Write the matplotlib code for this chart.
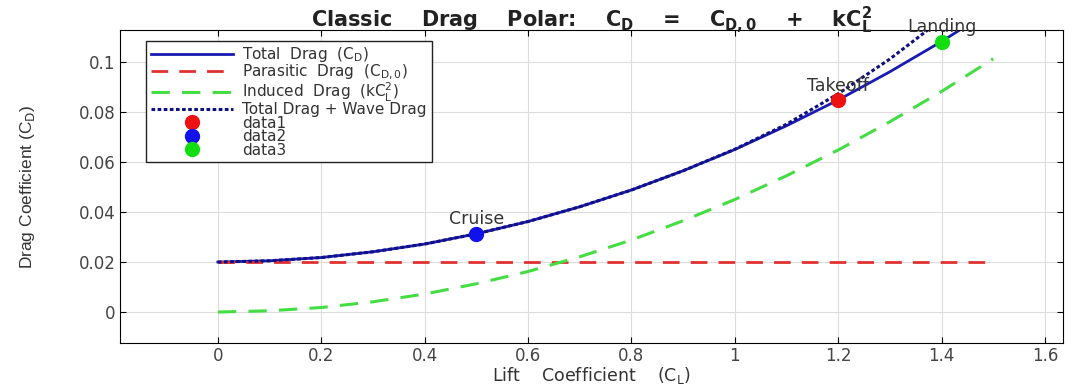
import numpy as np
import matplotlib.pyplot as plt

plt.rcParams['font.family'] = ['DejaVu Sans']

# values
cl = [0.0, 0.1, 0.2, 0.3, 0.4, 0.5, 0.6, 0.7, 0.8, 0.9, 1.0, 1.1, 1.2, 1.3, 1.4, 1.5]
cd_total = [0.020, 0.0205, 0.0218, 0.0241, 0.0272, 0.0313, 0.0362, 0.0421,
            0.0488, 0.0565, 0.0650, 0.0745, 0.0848, 0.0961, 0.1082, 0.1213]
cd_parasitic = [0.020] * len(cl)
cd_induced = [0.0, 0.0005, 0.0018, 0.0041, 0.0072, 0.0113, 0.0162, 0.0221,
              0.0288, 0.0365, 0.0450, 0.0545, 0.0648, 0.0761, 0.0882, 0.1013]
cd_wave = [0.020, 0.0205, 0.0218, 0.0241, 0.0272, 0.0313, 0.0362, 0.0421,
           0.0488, 0.0565, 0.0651, 0.0751, 0.0873, 0.1012, 0.1170, 0.1350]

pt_names = ['Takeoff', 'Cruise', 'Landing']
pt_cl = [1.2, 0.5, 1.4]
pt_cd = [0.0848, 0.0313, 0.1082]
pt_colors = ['#ee1111', '#1111ee', '#11dd11']

fig = plt.figure(figsize=(10.88, 3.85), dpi=100)
ax = fig.add_axes([0.110, 0.109, 0.867, 0.813])

ax.plot(cl, cd_total, color='#1a1ab4', lw=2, label=r'Total  Drag  (C$_\mathrm{D}$)')
ax.plot(cl, cd_parasitic, color='#e03030', lw=2, ls=(0, (6, 4)),
        label=r'Parasitic  Drag  (C$_\mathrm{D,0}$)')
ax.plot(cl, cd_induced, color='#44dd44', lw=2.2, ls=(0, (6, 4)),
        label=r'Induced  Drag  (kC$_\mathrm{L}^2$)')
ax.plot(cl, cd_wave, color='#101080', lw=2.2, ls=(0, (1.2, 0.8)),
        label='Total Drag + Wave Drag')

for i in range(len(pt_names)):
    ax.plot(pt_cl[i], pt_cd[i], 'o', ms=10, color=pt_colors[i],
            mec=pt_colors[i], label='data%d' % (i + 1), zorder=5)
    ax.text(pt_cl[i], pt_cd[i] + 0.0022, pt_names[i], ha='center', va='bottom',
            fontsize=12.5, color='#333333')

ax.set_xlim(-0.19, 1.635)
ax.set_ylim(-0.0124, 0.1128)
ax.set_xticks([0, 0.2, 0.4, 0.6, 0.8, 1, 1.2, 1.4, 1.6])
ax.set_xticklabels(['0', '0.2', '0.4', '0.6', '0.8', '1', '1.2', '1.4', '1.6'])
ax.set_yticks([0, 0.02, 0.04, 0.06, 0.08, 0.1])
ax.set_yticklabels(['0', '0.02', '0.04', '0.06', '0.08', '0.1'])
ax.tick_params(direction='in', top=True, right=True, labelsize=12,
               labelcolor='#444444', length=4, pad=3)
ax.grid(True, color='#dddddd', lw=0.8)
ax.set_axisbelow(True)

ax.set_xlabel(r'Lift    Coefficient    (C$_\mathrm{L}$)', fontsize=12.5, color='#333333', labelpad=0)
ax.set_ylabel(r'Drag Coefficient (C$_\mathrm{D}$)', fontsize=12.5, color='#333333',
              family='Liberation Sans', labelpad=30)
ax.set_title(r'Classic    Drag    Polar:    C$_\mathbf{D}$    =    C$_\mathbf{D,0}$    +    kC$_\mathbf{L}^\mathbf{2}$',
             fontsize=15, fontweight='bold', color='#222222', pad=2)

leg = ax.legend(loc='upper left', fontsize=11, handlelength=5.4, labelspacing=-0.1,
                borderpad=0.3, fancybox=False, framealpha=1, edgecolor='#222222',
                bbox_to_anchor=(0.02, 0.99), handletextpad=0.6)
leg.get_frame().set_linewidth(1.0)
for t in leg.get_texts():
    t.set_color('#333333')

fig.savefig('out.png', dpi=100)
